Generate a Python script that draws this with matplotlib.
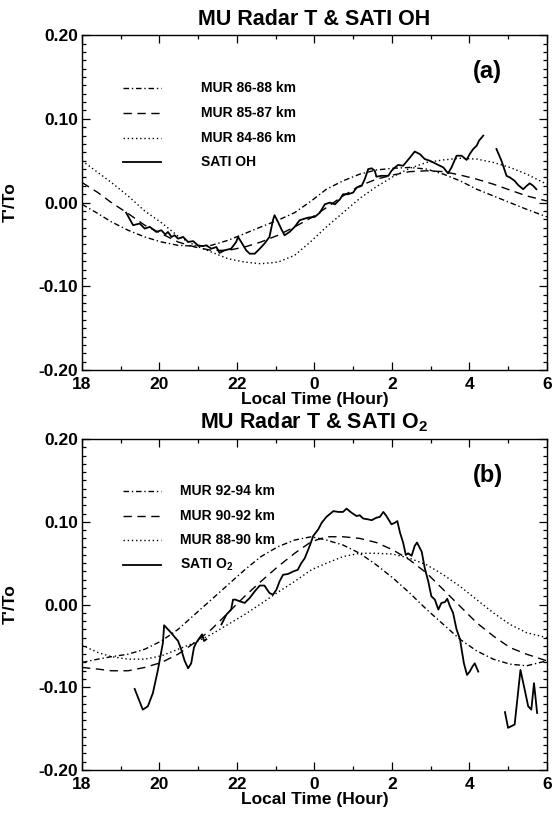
import matplotlib.pyplot as plt
import numpy as np

plt.rcParams['font.family'] = 'Liberation Sans'
plt.rcParams['font.weight'] = 'bold'
plt.rcParams['axes.labelweight'] = 'bold'
plt.rcParams['mathtext.fontset'] = 'custom'
plt.rcParams['mathtext.rm'] = 'Liberation Sans:bold'
plt.rcParams['mathtext.bf'] = 'Liberation Sans:bold'
plt.rcParams['mathtext.default'] = 'bf'

# hours after 18 LT run on past 24 (24 = 0 LT, 30 = 6 LT)
model_hours = [18.00, 18.41, 18.76, 19.19, 19.62, 20.05, 20.48, 20.91, 21.34, 21.77,
               22.20, 22.62, 23.06, 23.49, 23.92, 24.31, 24.74, 25.17, 25.60, 26.03,
               26.46, 26.90, 27.33, 27.76, 28.19, 28.62, 29.05, 29.48, 30.00]

# panel (a) MU radar
mur_86_88 = [-0.002, -0.013, -0.023, -0.033, -0.041, -0.047, -0.051, -0.052, -0.051, -0.045,
             -0.037, -0.029, -0.021, -0.012, 0.002, 0.016, 0.026, 0.034, 0.039, 0.041,
             0.042, 0.040, 0.034, 0.026, 0.016, 0.008, 0.000, -0.008, -0.017]
mur_85_87 = [0.024, 0.012, 0.000, -0.013, -0.027, -0.037, -0.047, -0.053, -0.057, -0.057,
             -0.053, -0.047, -0.039, -0.029, -0.018, -0.006, 0.008, 0.020, 0.028, 0.033,
             0.037, 0.038, 0.037, 0.033, 0.028, 0.022, 0.015, 0.008, 0.002]
mur_84_86 = [0.050, 0.036, 0.024, 0.008, -0.010, -0.024, -0.040, -0.051, -0.059, -0.067,
             -0.071, -0.073, -0.071, -0.063, -0.046, -0.029, -0.012, 0.005, 0.019, 0.031,
             0.041, 0.048, 0.051, 0.053, 0.052, 0.048, 0.042, 0.034, 0.022]

# panel (b) MU radar
mur_92_94 = [-0.070, -0.066, -0.063, -0.060, -0.054, -0.044, -0.030, -0.012, 0.006, 0.024,
             0.042, 0.058, 0.070, 0.078, 0.082, 0.078, 0.072, 0.062, 0.048, 0.032,
             0.014, -0.006, -0.024, -0.042, -0.056, -0.066, -0.072, -0.074, -0.068]
mur_90_92 = [-0.076, -0.078, -0.080, -0.080, -0.076, -0.070, -0.060, -0.046, -0.030, -0.010,
             0.010, 0.028, 0.046, 0.062, 0.076, 0.082, 0.082, 0.080, 0.075, 0.066,
             0.054, 0.038, 0.018, -0.002, -0.022, -0.038, -0.052, -0.060, -0.068]
mur_88_90 = [-0.049, -0.058, -0.063, -0.066, -0.066, -0.062, -0.054, -0.046, -0.036, -0.024,
             -0.012, 0.001, 0.015, 0.028, 0.042, 0.050, 0.058, 0.062, 0.062, 0.061,
             0.056, 0.048, 0.036, 0.022, 0.006, -0.010, -0.024, -0.034, -0.040]

# SATI OH (nan = data gap)
sati_oh_hours = [19.14, 19.32, 19.49, 19.62, 19.75, 19.92, 20.05, 20.15, 20.22, 20.31,
                 20.39, 20.48, 20.61, 20.74, 20.87, 20.99, 21.12, 21.21, 21.34, 21.47,
                 21.55, 21.68, 21.85, 21.98, 22.03, 22.11, 22.24, 22.33, 22.46, 22.59,
                 22.71, 22.84, 22.93, 22.97, 23.06, 23.14, 23.23, 23.36, 23.49, 23.62,
                 23.83, 24.01, 24.14, 24.27, 24.40, 24.53, 24.66, 24.74, 24.87, 25.00,
                 25.09, 25.22, 25.30, 25.39, 25.48, 25.56, 25.60, 25.73, 25.91, 25.99,
                 26.08, 26.16, 26.29, 26.47, 26.59, 26.72, 26.85, 26.98, 27.11, 27.24,
                 27.33, 27.45, 27.54, 27.67, 27.80, 27.93, 28.01, 28.10, 28.19, 28.25,
                 28.36, 28.50,
                 28.70, 28.83, 28.96, 29.05, 29.17, 29.26, 29.39, 29.48, 29.56, 29.65,
                 29.73]
sati_oh = [-0.012, -0.027, -0.025, -0.031, -0.029, -0.035, -0.033, -0.038, -0.035, -0.041,
           -0.039, -0.043, -0.041, -0.047, -0.046, -0.051, -0.052, -0.051, -0.055, -0.053,
           -0.060, -0.057, -0.055, -0.047, -0.041, -0.047, -0.057, -0.061, -0.061, -0.055,
           -0.049, -0.041, -0.021, -0.015, -0.023, -0.031, -0.039, -0.035, -0.029, -0.021,
           -0.018, -0.017, -0.012, -0.002, 0.000, -0.002, 0.004, 0.010, 0.010, 0.012,
           0.018, 0.020, 0.028, 0.040, 0.041, 0.038, 0.031, 0.032, 0.032, 0.038,
           0.042, 0.045, 0.044, 0.054, 0.061, 0.058, 0.052, 0.050, 0.047, 0.044,
           0.042, 0.035, 0.042, 0.056, 0.056, 0.051, 0.058, 0.064, 0.068, 0.074,
           0.080, np.nan,
           0.064, 0.050, 0.032, 0.030, 0.026, 0.021, 0.016, 0.020, 0.023, 0.020,
           0.016]

# SATI O2 (nan = data gap)
sati_o2_hours = [19.36, 19.57, 19.70, 19.83, 19.96, 20.09, 20.12, 20.26, 20.48, 20.56,
                 20.65, 20.74, 20.82, 20.89, 20.95, 21.04, 21.10, 21.15, 21.21, 21.40,
                 21.60, 21.73, 21.85, 21.90, 21.96, 22.07, 22.20, 22.33, 22.46, 22.59,
                 22.71, 22.84, 22.93, 23.02, 23.10, 23.19, 23.32, 23.45, 23.57, 23.66,
                 23.75, 23.88, 23.97, 24.10, 24.19, 24.31, 24.49, 24.62, 24.74, 24.83,
                 24.96, 25.09, 25.17, 25.26, 25.39, 25.48, 25.60, 25.69, 25.78, 25.86,
                 25.99, 26.08, 26.14, 26.21, 26.29, 26.36, 26.42, 26.51, 26.59, 26.65,
                 26.77, 26.85, 26.94, 27.02, 27.11, 27.20, 27.28, 27.37, 27.43, 27.50,
                 27.58, 27.67, 27.76, 27.80, 27.86, 27.94, 28.01, 28.08, 28.14, 28.23,
                 28.60,
                 28.92, 29.00, 29.17, 29.32, 29.43, 29.52, 29.60, 29.67, 29.75]
sati_o2 = [-0.102, -0.127, -0.123, -0.107, -0.079, -0.046, -0.025, -0.032, -0.044, -0.054,
           -0.068, -0.077, -0.071, -0.052, -0.046, -0.040, -0.036, -0.044, -0.042, np.nan,
           -0.024, -0.012, -0.006, 0.006, 0.006, 0.004, 0.002, 0.008, 0.016, 0.023,
           0.023, 0.014, 0.012, 0.018, 0.028, 0.036, 0.037, 0.040, 0.042, 0.050,
           0.056, 0.071, 0.083, 0.091, 0.099, 0.106, 0.113, 0.112, 0.112, 0.116,
           0.111, 0.107, 0.108, 0.104, 0.103, 0.102, 0.105, 0.106, 0.112, 0.107,
           0.097, 0.099, 0.101, 0.087, 0.075, 0.060, 0.062, 0.059, 0.071, 0.075,
           0.064, 0.044, 0.028, 0.010, 0.006, -0.006, 0.002, 0.003, 0.007, -0.002,
           -0.010, -0.030, -0.042, -0.054, -0.071, -0.085, -0.081, -0.075, -0.071, -0.081,
           np.nan,
           -0.130, -0.149, -0.145, -0.079, -0.103, -0.123, -0.127, -0.095, -0.131]

xtick_pos = [18, 20, 22, 24, 26, 28, 30]
xtick_labels = ['18', '20', '22', '0', '2', '4', '6']
ytick_pos = [-0.2, -0.1, 0.0, 0.1, 0.2]
ytick_labels = ['-0.20', '-0.10', '0.00', '0.10', '0.20']

DASHDOT = (0, (4, 2, 1, 2))
DASHED = (0, (6, 4))
DOTTED = (0, (1, 2))


def draw_panel(ax, series, sati_t, sati_v, sati_label, title, tag, leg_x):
    styles = [DASHDOT, DASHED, DOTTED]
    rows = [0.842, 0.768, 0.694, 0.620]
    for (label, vals), ls, ry in zip(series, styles, rows):
        ax.plot(model_hours, vals, color='black', lw=1.0, linestyle=ls)
        ax.plot([0.088, 0.170], [ry, ry], color='black', lw=1.0, linestyle=ls,
                transform=ax.transAxes)
        ax.text(leg_x, ry, label, transform=ax.transAxes, fontsize=10, va='center')
    ax.plot(sati_t, sati_v, color='black', lw=1.3)
    ax.plot([0.088, 0.170], [rows[3], rows[3]], color='black', lw=1.3,
            transform=ax.transAxes)
    ax.text(leg_x, rows[3], sati_label, transform=ax.transAxes, fontsize=10, va='center')

    ax.text(0.873, 0.89, tag, transform=ax.transAxes, fontsize=17, ha='center', va='center')
    ax.text(0.5, 1.015, title, transform=ax.transAxes, fontsize=15.5, ha='center',
            va='bottom')

    ax.set_xlim(18, 30)
    ax.set_ylim(-0.2, 0.2)
    ax.set_xticks(xtick_pos)
    ax.set_xticklabels(xtick_labels)
    ax.set_xticks(np.arange(18, 31, 1), minor=True)
    ax.set_yticks(ytick_pos)
    ax.set_yticklabels(ytick_labels)
    ax.set_yticks(np.arange(-0.2, 0.201, 0.01), minor=True)
    ax.tick_params(which='both', direction='in', top=True, right=True, width=0.9,
                   labelsize=12.5)
    ax.tick_params(axis='x', which='major', length=6, pad=5)
    ax.tick_params(axis='x', which='minor', length=3)
    ax.tick_params(axis='y', which='major', length=6, pad=3)
    ax.tick_params(axis='y', which='minor', length=3)
    for sp in ax.spines.values():
        sp.set_linewidth(1.0)
    ax.set_xlabel('Local Time (Hour)', fontsize=12.5, fontweight='bold', labelpad=0)
    ax.set_ylabel("T'/To", fontsize=12.5, fontweight='bold')
    ax.yaxis.set_label_coords(-0.138, 0.5)


fig = plt.figure(figsize=(5.54, 8.17), dpi=100)
ax_a = fig.add_axes([0.148, 0.547, 0.839, 0.410])
ax_b = fig.add_axes([0.148, 0.0575, 0.839, 0.405])

draw_panel(ax_a,
           [('MUR 86-88 km', mur_86_88), ('MUR 85-87 km', mur_85_87), ('MUR 84-86 km', mur_84_86)],
           sati_oh_hours, sati_oh, 'SATI OH', 'MU Radar T & SATI OH', '(a)', 0.256)
draw_panel(ax_b,
           [('MUR 92-94 km', mur_92_94), ('MUR 90-92 km', mur_90_92), ('MUR 88-90 km', mur_88_90)],
           sati_o2_hours, sati_o2, 'SATI O$_2$', 'MU Radar T & SATI O$_2$', '(b)', 0.211)

fig.savefig('out.png', dpi=100)
